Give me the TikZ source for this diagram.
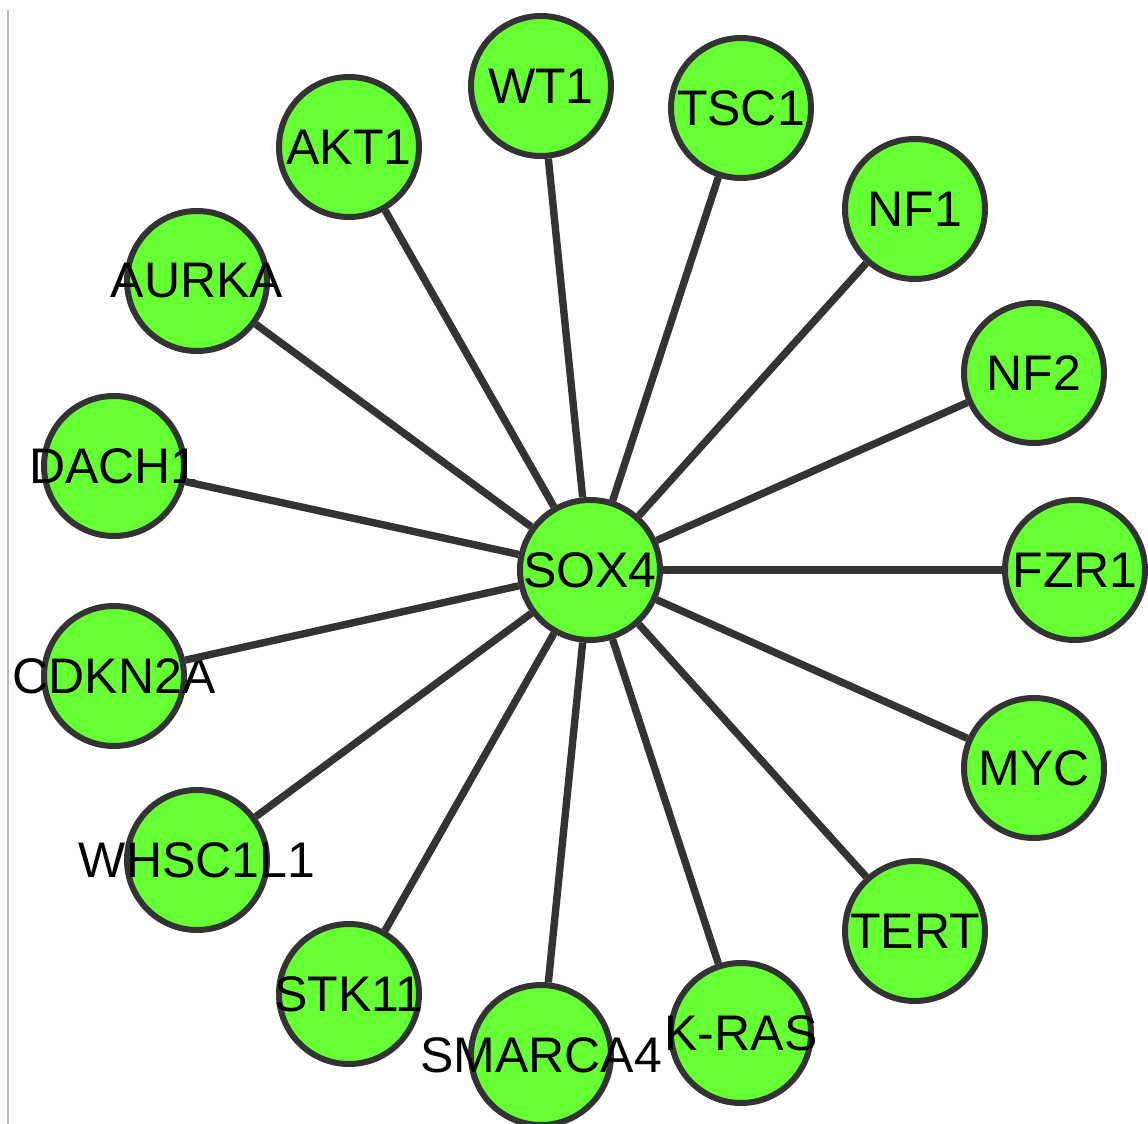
\documentclass[tikz,border=0pt]{standalone}
\usepackage{fontspec}
\setmainfont{Liberation Sans}
\definecolor{genegreen}{HTML}{66FF33}
\definecolor{edgegray}{HTML}{333333}
\definecolor{framegray}{HTML}{BBBBBB}
\begin{document}
\begin{tikzpicture}[x=0.5pt,y=-0.5pt,
  gene/.style={circle,draw=edgegray,fill=genegreen,line width=3pt,
    minimum size=70pt,inner sep=0pt,
    font=\fontsize{25pt}{28pt}\selectfont},
  link/.style={draw=edgegray,line width=3.7pt},
  frameline/.style={draw=framegray,line width=0.7pt}]
\useasboundingbox (0,0) rectangle (1148,1124);
\coordinate (ftop) at (8,10);
\coordinate (fbot) at (8,1124);
\draw[frameline] (ftop) -- (fbot);
\node[gene] (sox4) at (590,570) {\makebox[0pt]{SOX4}};
\node[gene] (wt1) at (541,86) {\makebox[0pt]{WT1}};
\node[gene] (tsc1) at (741,108) {\makebox[0pt]{TSC1}};
\node[gene] (nf1) at (915,209) {\makebox[0pt]{NF1}};
\node[gene] (nf2) at (1034,373) {\makebox[0pt]{NF2}};
\node[gene] (fzr1) at (1075,570) {\makebox[0pt]{FZR1}};
\node[gene] (myc) at (1034,768) {\makebox[0pt]{MYC}};
\node[gene] (tert) at (915,931) {\makebox[0pt]{TERT}};
\node[gene] (kras) at (741,1033) {\makebox[0pt]{K-RAS}};
\node[gene] (smarca4) at (541,1055) {\makebox[0pt]{SMARCA4}};
\node[gene] (stk11) at (349,994) {\makebox[0pt]{STK11}};
\node[gene] (whsc) at (197,860) {\makebox[0pt]{WHSC1L1}};
\node[gene] (cdkn2a) at (114,676) {\makebox[0pt]{CDKN2A}};
\node[gene] (dach1) at (114,466) {\makebox[0pt]{DACH1}};
\node[gene] (aurka) at (197,281) {\makebox[0pt]{AURKA}};
\node[gene] (akt1) at (349,147) {\makebox[0pt]{AKT1}};
\foreach \n in {wt1,tsc1,nf1,nf2,fzr1,myc,tert,kras,smarca4,stk11,whsc,cdkn2a,dach1,aurka,akt1}
  \draw[link] (sox4) -- (\n);
\end{tikzpicture}
\end{document}
